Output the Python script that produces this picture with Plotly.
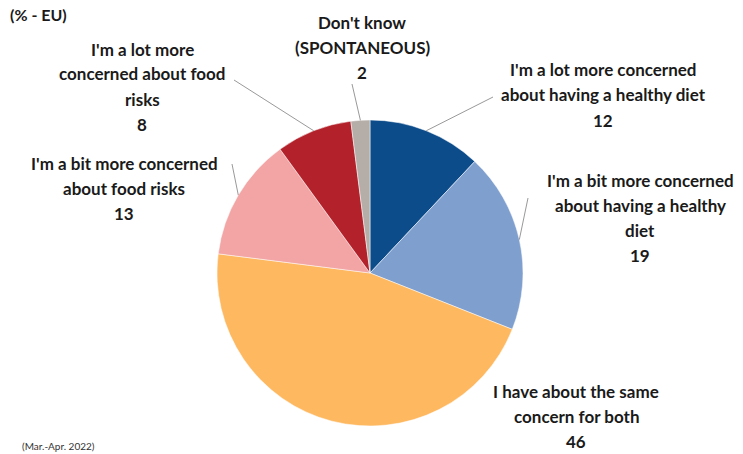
import math
import plotly.graph_objects as go

# ---- data ----
categories = [
    "I'm a lot more concerned about having a healthy diet",
    "I'm a bit more concerned about having a healthy diet",
    "I have about the same concern for both",
    "I'm a bit more concerned about food risks",
    "I'm a lot more concerned about food risks",
    "Don't know (SPONTANEOUS)",
]
values = [12, 19, 46, 13, 8, 2]
label_lines = [
    ["I'm a lot more concerned", "about having a healthy diet"],
    ["I'm a bit more concerned", "about having a healthy", "diet"],
    ["I have about the same", "concern for both"],
    ["I'm a bit more concerned", "about food risks"],
    ["I'm a lot more", "concerned about food", "risks"],
    ["Don't know", "(SPONTANEOUS)"],
]
colors = ["#0D4C8A", "#7F9FCF", "#FDB860", "#F2A5A4", "#B3222B", "#B5ADA8"]

# ---- layout constants (pixels) ----
W, H = 743, 454
CX, CY, R = 370, 273, 153
LINE_H = 25
FONT = "Lato, 'Open Sans', Arial, sans-serif"
TXT = "#1A1A1A"
# label block: center x, top-line y
label_pos = [(603, 70), (640, 180), (576, 391), (124, 163), (142, 49), (362, 22)]
# leader line end points (None = no line)
leader_end = [(493, 97), (528, 198), None, (232, 164), (234, 80), (352, 84)]

fig = go.Figure(go.Pie(
    labels=categories, values=values, sort=False, direction="clockwise",
    rotation=0, textinfo="none", hoverinfo="label+value",
    marker=dict(colors=colors, line=dict(color="white", width=0.5)),
    domain=dict(x=[(CX - R) / W, (CX + R) / W], y=[(H - CY - R) / H, (H - CY + R) / H]),
    showlegend=False,
))

def px(x, y):
    return x / W, 1 - y / H

annotations = []
for lines, v, (lx, ly) in zip(label_lines, values, label_pos):
    for i, t in enumerate(lines + [str(v)]):
        ax, ay = px(lx, ly + i * LINE_H)
        annotations.append(dict(x=ax, y=ay, xref="paper", yref="paper", text=t,
                                showarrow=False, xanchor="center", yanchor="middle",
                                font=dict(family=FONT, size=17, color=TXT, weight="bold")))

shapes = []
total = sum(values)
cum = 0
for v, end in zip(values, leader_end):
    mid = (cum + v / 2) / total * 2 * math.pi
    cum += v
    if end is None:
        continue
    sx = CX + R * math.sin(mid)
    sy = CY - R * math.cos(mid)
    x0, y0 = px(sx, sy)
    x1, y1 = px(*end)
    shapes.append(dict(type="line", xref="paper", yref="paper", x0=x0, y0=y0, x1=x1, y1=y1,
                       line=dict(color="#999999", width=1)))

ax, ay = px(8, 14)
annotations.append(dict(x=ax, y=ay, xref="paper", yref="paper", text="(% - EU)",
                        showarrow=False, xanchor="left", yanchor="middle",
                        font=dict(family=FONT, size=16, color=TXT, weight="bold")))
ax, ay = px(20, 446)
annotations.append(dict(x=ax, y=ay, xref="paper", yref="paper", text="(Mar.-Apr. 2022)",
                        showarrow=False, xanchor="left", yanchor="middle",
                        font=dict(family=FONT, size=10, color="#333333")))

fig.update_layout(width=W, height=H, margin=dict(l=0, r=0, t=0, b=0),
                  paper_bgcolor="white", plot_bgcolor="white",
                  annotations=annotations, shapes=shapes)
fig.write_html("out.html")
